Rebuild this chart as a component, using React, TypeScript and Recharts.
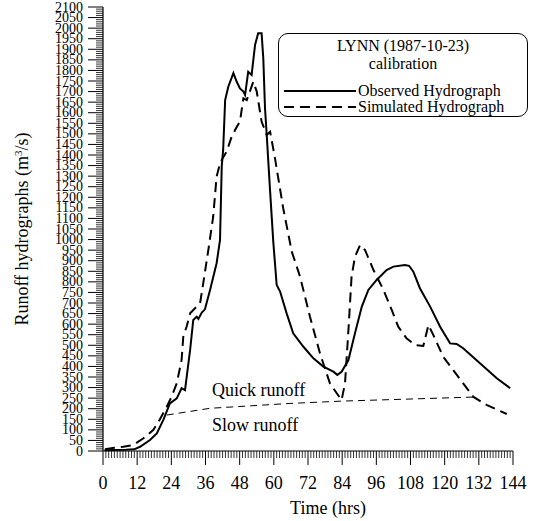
import * as React from "react";
import { Line, LineChart, XAxis, YAxis } from "recharts";

// observed hydrograph (hours, m3/s)
const obsHours = [0.5, 4, 8, 11, 13, 16.5, 18.9, 21.2, 23.5, 25.9, 27.6, 28.8, 30.6, 31.7, 32.9, 33.5, 34.7, 35.8, 37.6, 39.9, 41.1, 41.7, 42.2, 42.9, 44, 45.8, 47, 48.1, 49.3, 49.9, 51, 52.2, 53.4, 54.5, 55.7, 56.3, 56.9, 57.5, 58.7, 59.8, 61, 62.2, 64.5, 66.8, 70.4, 73.9, 77.4, 80.9, 82.3, 83.8, 86.2, 88.5, 90.9, 93.2, 96.1, 99.6, 102, 106, 107.5, 109, 111.3, 114.9, 118.4, 121.9, 124.2, 126.5, 132.4, 138.3, 143];
const obsFlow = [3, 5, 6, 8, 20, 52, 83, 147, 225, 249, 297, 288, 478, 620, 635, 625, 655, 670, 762, 888, 998, 1345, 1424, 1660, 1723, 1787, 1745, 1715, 1700, 1684, 1794, 1779, 1920, 1976, 1976, 1857, 1621, 1495, 1227, 990, 785, 754, 651, 557, 493, 438, 399, 375, 360, 375, 430, 557, 683, 762, 809, 856, 872, 880, 876, 848, 770, 683, 588, 509, 506, 486, 415, 344, 297];

// simulated hydrograph
const simHours = [0.7, 4, 7.1, 10.6, 14.2, 17.7, 20, 22.4, 24.1, 25.9, 27.6, 28.2, 29.4, 30.6, 32.9, 34.1, 35.2, 37, 38.7, 39.9, 41.1, 41.7, 43.4, 45.2, 47, 48.1, 49.3, 50.5, 52.8, 54, 55.7, 57.5, 58.7, 60.4, 63.3, 66.3, 69.2, 72.7, 76.2, 79.7, 82.1, 83.8, 85, 86.2, 87.3, 88.5, 90.3, 92, 95, 98.5, 101.4, 103.7, 106.6, 109.6, 112.5, 114.3, 116, 119.5, 123, 126.5, 130, 134.7, 141.8];
const simFlow = [8, 15, 20, 28, 60, 100, 150, 210, 257, 320, 430, 541, 590, 651, 683, 699, 793, 951, 1108, 1298, 1361, 1377, 1416, 1487, 1534, 1558, 1668, 1660, 1747, 1700, 1558, 1495, 1510, 1385, 1148, 943, 825, 635, 462, 320, 273, 241, 320, 572, 825, 919, 974, 951, 856, 762, 667, 588, 533, 501, 497, 596, 549, 446, 383, 320, 257, 218, 175];

// quick / slow runoff separation line
const baseHours = [22.4, 37.6, 65.7, 84, 130];
const baseFlow = [170, 202, 225, 236, 255];

const xLabels = [0, 12, 24, 36, 48, 60, 72, 84, 96, 108, 120, 132, 144];
const xTicks = Array.from({ length: 145 }, (_, i) => i);
const yTicks = Array.from({ length: 211 }, (_, i) => i * 10);

const toRows = (hs: number[], vs: number[]) => hs.map((h, i) => ({ h, v: vs[i] }));
const obsData = toRows(obsHours, obsFlow);
const simData = toRows(simHours, simFlow);
const baseData = toRows(baseHours, baseFlow);

const FONT = "'Liberation Serif', 'Times New Roman', serif";

function YTick(props: any) {
  const { x, y, payload } = props;
  const major = payload.value % 50 === 0;
  return (
    <g>
      <line x1={x - (major ? 15 : 7)} x2={x} y1={y} y2={y} stroke="#000" strokeWidth={major ? 1 : 0.8} />
      {major && (
        <text x={x - 20} y={y} dy={4.5} textAnchor="end" fontSize={14} fontFamily={FONT} fill="#000">
          {payload.value}
        </text>
      )}
    </g>
  );
}

function XTick(props: any) {
  const { x, y, payload } = props;
  const major = xLabels.includes(payload.value);
  return (
    <g>
      <line x1={x} x2={x} y1={y} y2={y + (major ? 14 : 7)} stroke="#000" strokeWidth={major ? 1 : 0.8} />
      {major && (
        <text x={x} y={y + 38} textAnchor="middle" fontSize={18} fontFamily={FONT} fill="#000">
          {payload.value}
        </text>
      )}
    </g>
  );
}

const txt: React.CSSProperties = { position: "absolute", fontFamily: FONT, color: "#000", whiteSpace: "nowrap" };

export default function App() {
  return (
    <div style={{ position: "absolute", left: 0, top: 0, width: 545, height: 521, background: "#fff" }}>
      <LineChart width={545} height={521} margin={{ top: 7, right: 32, bottom: 0, left: 0 }}>
        <XAxis
          type="number"
          dataKey="h"
          domain={[0, 144]}
          ticks={xTicks}
          interval={0}
          height={70}
          tickSize={0}
          tickMargin={0}
          tickLine={false}
          tick={<XTick />}
          axisLine={{ stroke: "#000", strokeWidth: 1.2 }}
          allowDuplicatedCategory={false}
        />
        <YAxis
          type="number"
          domain={[0, 2100]}
          ticks={yTicks}
          interval={0}
          width={103}
          tickSize={0}
          tickMargin={0}
          tickLine={false}
          tick={<YTick />}
          axisLine={{ stroke: "#000", strokeWidth: 1.2 }}
        />
        <Line data={baseData} dataKey="v" type="linear" stroke="#000" strokeWidth={1} strokeDasharray="7 5" dot={false} isAnimationActive={false} />
        <Line data={simData} dataKey="v" type="linear" stroke="#000" strokeWidth={2} strokeDasharray="10 6" dot={false} isAnimationActive={false} />
        <Line data={obsData} dataKey="v" type="linear" stroke="#000" strokeWidth={2} dot={false} isAnimationActive={false} />
      </LineChart>

      <div
        style={{
          ...txt,
          left: 22,
          top: 229,
          fontSize: 18,
          transform: "translate(-50%, -50%) rotate(-90deg)",
        }}
      >
        Runoff hydrographs (m<sup style={{ fontSize: 11, verticalAlign: "6px" }}>3</sup>/s)
      </div>
      <div style={{ ...txt, left: 328, top: 508, fontSize: 18, transform: "translate(-50%, -50%)" }}>Time (hrs)</div>
      <div style={{ ...txt, left: 212, top: 390, fontSize: 18, transform: "translateY(-50%)" }}>Quick runoff</div>
      <div style={{ ...txt, left: 212, top: 425, fontSize: 18, transform: "translateY(-50%)" }}>Slow runoff</div>

      <div
        style={{
          position: "absolute",
          left: 278,
          top: 33,
          width: 250,
          height: 84,
          boxSizing: "border-box",
          border: "1.5px solid #000",
          borderRadius: 10,
          background: "#fff",
          fontFamily: FONT,
          fontSize: 16,
        }}
      >
        <div style={{ ...txt, left: 0, width: 248, textAlign: "center", top: 3, lineHeight: "18px" }}>LYNN (1987-10-23)</div>
        <div style={{ ...txt, left: 0, width: 248, textAlign: "center", top: 21, lineHeight: "18px" }}>calibration</div>
        <svg style={{ position: "absolute", left: 0, top: 0 }} width={248} height={82}>
          <line x1={5} x2={77} y1={57} y2={57} stroke="#000" strokeWidth={2} />
          <line x1={5} x2={77} y1={73} y2={73} stroke="#000" strokeWidth={2} strokeDasharray="10 6" />
        </svg>
        <div style={{ ...txt, left: 79, top: 48, lineHeight: "18px" }}>Observed Hydrograph</div>
        <div style={{ ...txt, left: 79, top: 64, lineHeight: "18px" }}>Simulated Hydrograph</div>
      </div>
    </div>
  );
}
